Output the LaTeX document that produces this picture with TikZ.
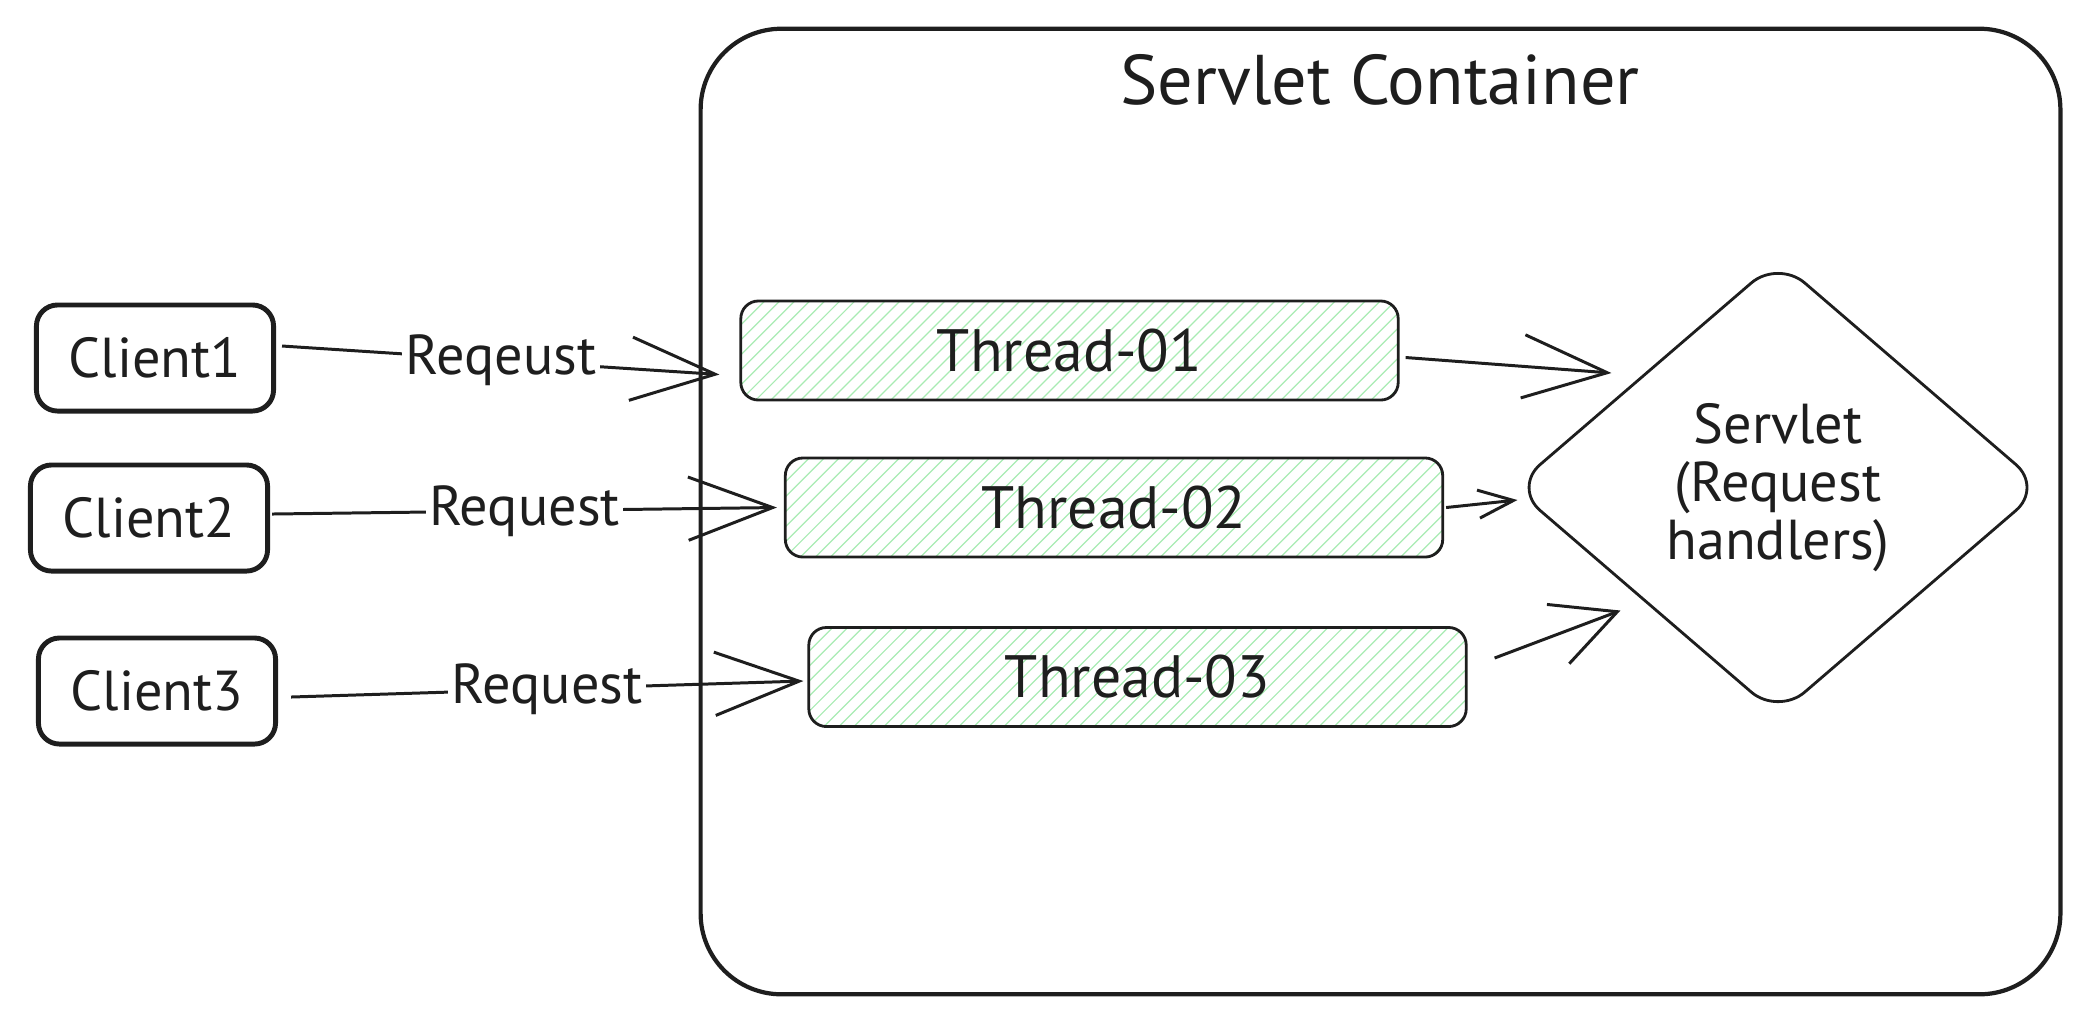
\documentclass[tikz,border=0pt]{standalone}
\usepackage{fontspec}
\setmainfont{PT Sans}
\usetikzlibrary{arrows.meta,shapes.geometric,calc}
\definecolor{ink}{HTML}{1E1E1E}
\definecolor{hatchgreen}{HTML}{A8EBB3}
\begin{document}
\begin{tikzpicture}[x=0.01cm,y=-0.01cm,
  client/.style={draw=ink,line width=1.4pt,rounded corners=6pt,minimum width=2.37cm,minimum height=1.06cm,
    font=\fontsize{16}{19}\selectfont,text=ink,inner sep=0pt},
  thread/.style={draw=ink,line width=0.8pt,rounded corners=5pt,minimum width=6.57cm,minimum height=0.99cm,
    font=\fontsize{17}{20}\selectfont,text=ink,inner sep=0pt,
    path picture={\foreach \k in {0,...,56}{\draw[hatchgreen,line width=0.35pt]
      ([xshift=\k*0.15cm-1.2cm]path picture bounding box.south west) -- ++(1.2cm,1.2cm);}}},
  container/.style={draw=ink,line width=1.2pt,rounded corners=23pt,minimum width=13.59cm,minimum height=9.65cm,inner sep=0pt},
  titletext/.style={font=\fontsize{20}{24}\selectfont,text=ink},
  servlet/.style={diamond,draw=ink,line width=0.8pt,rounded corners=10pt,minimum width=5.30cm,minimum height=4.56cm,
    inner sep=0pt,align=center,font=\fontsize{16}{16.5}\selectfont,text=ink},
  conn/.style={draw=ink,line width=0.85pt,-{Straight Barb[length=24pt,width=18pt,line width=0.85pt]}},
  connsmall/.style={draw=ink,line width=0.85pt,-{Straight Barb[length=10pt,width=8pt,line width=0.85pt]}},
  connmid/.style={draw=ink,line width=0.85pt,-{Straight Barb[length=18pt,width=18pt,line width=0.85pt]}},
  lbl/.style={fill=white,inner sep=1pt,font=\fontsize{16}{19}\selectfont,text=ink}
]
\path[use as bounding box] (0,0) rectangle (2089,1023);

\node[container] (cont) at (1380.5,511.5) {};
\node[titletext] (title) at (1380,80) {Servlet Container};

\node[client] (c1) at (155,358) {Client1};
\node[client] (c2) at (149,518) {Client2};
\node[client] (c3) at (157,691) {Client3};

\node[thread] (t1) at (1069.5,350.5) {Thread-01};
\node[thread] (t2) at (1114,507.5) {Thread-02};
\node[thread] (t3) at (1137.5,677) {Thread-03};

\node[servlet] (s) at (1778,487.5) {Servlet\\(Request\\handlers)};

\draw[conn] ($(c1.east)+(6,-12)$) -- node[lbl]{Reqeust} ($(t1.west)+(-20,24)$);
\draw[conn] ($(c2.east)+(2,-4)$) -- node[lbl]{Request} ($(t2.west)+(-7,0)$);
\draw[conn] ($(c3.east)+(13,6)$) -- node[lbl]{Request} ($(t3.west)+(-4,4)$);

\draw[conn] ($(t1.east)+(6,7)$) -- ($(s.west)+(100,-114.5)$);
\draw[connsmall] ($(t2.east)+(2,0)$) -- ($(s.west)+(6,12.5)$);
\draw[connmid] ($(t3.east)+(27,-19)$) -- ($(s.west)+(109,123)$);
\end{tikzpicture}
\end{document}
